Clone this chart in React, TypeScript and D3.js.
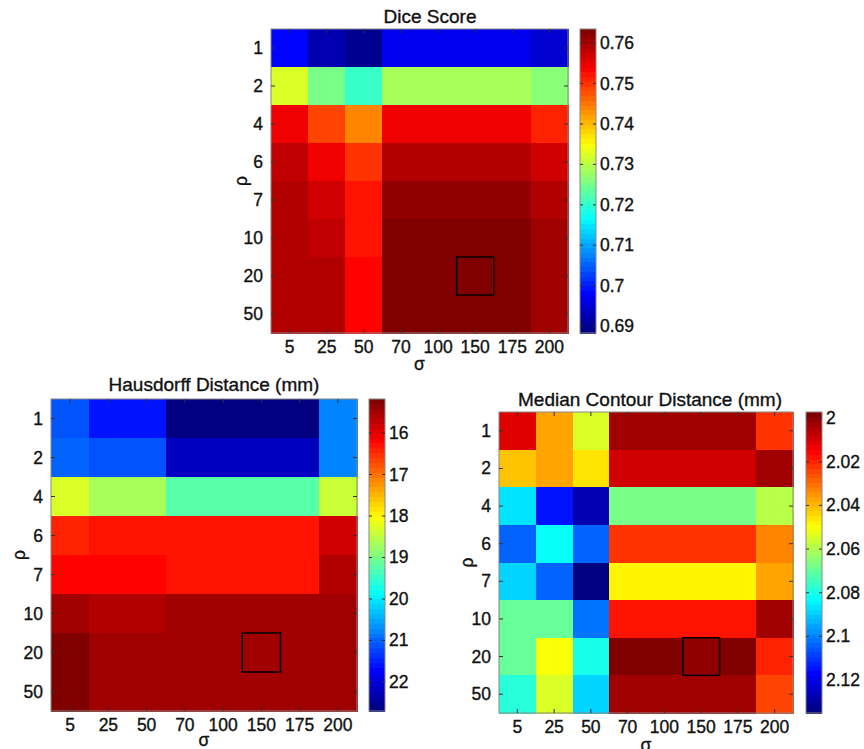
import React from "react";
import * as d3 from "d3";

const rhoLabels = ["1", "2", "4", "6", "7", "10", "20", "50"];
const sigmaLabels = ["5", "25", "50", "70", "100", "150", "175", "200"];

// rows = rho, cols = sigma
const diceValues = [
  [0.6988, 0.6928, 0.6898, 0.6973, 0.6973, 0.6973, 0.6973, 0.695],
  [0.7327, 0.7257, 0.7212, 0.7294, 0.7294, 0.7294, 0.7294, 0.7264],
  [0.7545, 0.749, 0.7445, 0.7552, 0.7552, 0.7552, 0.7552, 0.751],
  [0.7583, 0.7541, 0.7497, 0.7597, 0.7597, 0.7597, 0.7597, 0.7571],
  [0.7594, 0.7567, 0.7518, 0.762, 0.762, 0.762, 0.762, 0.759],
  [0.759, 0.7579, 0.7526, 0.7633, 0.7633, 0.7633, 0.7633, 0.7604],
  [0.759, 0.759, 0.7534, 0.7633, 0.7633, 0.7633, 0.7633, 0.76],
  [0.759, 0.759, 0.7534, 0.7633, 0.7633, 0.7633, 0.7633, 0.76],
];

const hausdorffValues = [
  [21.1, 21.53, 21.53, 22.62, 22.62, 22.62, 22.62, 20.8],
  [20.95, 21.17, 21.17, 22.17, 22.17, 22.17, 22.17, 20.73],
  [18.26, 18.66, 18.66, 19.18, 19.18, 19.18, 19.18, 18.45],
  [16.46, 16.31, 16.31, 16.35, 16.35, 16.35, 16.35, 15.78],
  [16.16, 16.16, 16.16, 16.27, 16.27, 16.27, 16.27, 15.63],
  [15.46, 15.59, 15.59, 15.5, 15.5, 15.5, 15.5, 15.5],
  [15.27, 15.5, 15.5, 15.5, 15.5, 15.5, 15.5, 15.5],
  [15.2, 15.5, 15.5, 15.5, 15.5, 15.5, 15.5, 15.5],
];

const mcdValues = [
  [2.011, 2.0374, 2.0536, 2.0028, 2.0028, 2.0028, 2.0028, 2.0224],
  [2.0412, 2.0374, 2.0467, 2.0087, 2.0087, 2.0087, 2.0087, 2.0033],
  [2.0867, 2.1136, 2.128, 2.067, 2.067, 2.067, 2.067, 2.0576],
  [2.1042, 2.0832, 2.1028, 2.021, 2.021, 2.021, 2.021, 2.0332],
  [2.088, 2.1042, 2.133, 2.0488, 2.0488, 2.0488, 2.0488, 2.036],
  [2.0697, 2.0697, 2.1015, 2.0184, 2.0184, 2.0184, 2.0184, 2.0028],
  [2.0684, 2.0494, 2.0805, 1.9984, 1.9984, 2.0003, 1.9984, 2.019],
  [2.0777, 2.055, 2.0888, 2.0028, 2.0028, 2.0028, 2.0028, 2.025],
];

const diceTicks = [0.69, 0.7, 0.71, 0.72, 0.73, 0.74, 0.75, 0.76];
const hausdorffTicks = [16, 17, 18, 19, 20, 21, 22];
const mcdTicks = [2, 2.02, 2.04, 2.06, 2.08, 2.1, 2.12];

const bestRho = "20";
const bestSigma = "150";

const FONT = "'Liberation Sans', Arial, Helvetica, sans-serif";

// MATLAB-like jet, 64 levels
const jet = (t) => {
  const i = Math.max(0, Math.min(63, Math.floor(t * 64)));
  const q = i / 63;
  const c = (v) => Math.round(255 * Math.max(0, Math.min(1, v)));
  const r = c(1.5 - Math.abs(4 * q - 3));
  const g = c(1.5 - Math.abs(4 * q - 2));
  const b = c(1.5 - Math.abs(4 * q - 1));
  return `rgb(${r},${g},${b})`;
};

const Heatmap = ({ title, values, x, y, w, h, cbx, cbw, dom, ticks, titleX, titleY, rhoX, sigmaDy }) => {
  const xs = d3.scaleBand().domain(sigmaLabels).range([x, x + w]);
  const ys = d3.scaleBand().domain(rhoLabels).range([y, y + h]);
  // dom = [value at colorbar bottom, value at colorbar top]
  const cs = d3.scaleLinear().domain(dom).range([y + h, y]);
  const colorOf = (v) => jet((y + h - cs(v)) / h);
  const levels = d3.range(64);
  const lh = h / 64;
  const tl = 4;

  return (
    <g fontFamily={FONT} fontSize={17.5} fill="#111" stroke="#111" strokeWidth={0.35}>
      <text x={titleX} y={titleY} textAnchor="middle" fontSize={19}>{title}</text>
      <g stroke="none" shapeRendering="crispEdges">
        {values.map((row, ri) =>
          row.map((v, ci) => (
            <rect
              key={`${ri}-${ci}`}
              x={xs(sigmaLabels[ci])}
              y={ys(rhoLabels[ri])}
              width={xs.bandwidth() + 0.5}
              height={ys.bandwidth() + 0.5}
              fill={colorOf(v)}
            />
          ))
        )}
        {levels.map((i) => (
          <rect
            key={i}
            x={cbx}
            y={y + h - (i + 1) * lh}
            width={cbw}
            height={lh + 0.5}
            fill={jet((i + 0.5) / 64)}
          />
        ))}
      </g>
      <rect
        x={xs(bestSigma)}
        y={ys(bestRho)}
        width={xs.bandwidth()}
        height={ys.bandwidth()}
        fill="none"
        stroke="#000"
        strokeWidth={1.5}
      />
      <rect x={x} y={y} width={w} height={h} fill="none" stroke="#888" strokeWidth={1} />
      <rect x={cbx} y={y} width={cbw} height={h} fill="none" stroke="#888" strokeWidth={1} />
      {rhoLabels.map((r) => {
        const cy = ys(r) + ys.bandwidth() / 2;
        return (
          <g key={r}>
            <line x1={x} x2={x + tl} y1={cy} y2={cy} stroke="#333" strokeWidth={1} />
            <line x1={x + w - tl} x2={x + w} y1={cy} y2={cy} stroke="#333" strokeWidth={1} />
            <text x={x - 8} y={cy + 6} textAnchor="end">{r}</text>
          </g>
        );
      })}
      {sigmaLabels.map((s) => {
        const cx = xs(s) + xs.bandwidth() / 2;
        return (
          <g key={s}>
            <line x1={cx} x2={cx} y1={y + h - tl} y2={y + h} stroke="#333" strokeWidth={1} />
            <line x1={cx} x2={cx} y1={y} y2={y + tl} stroke="#333" strokeWidth={1} />
            <text x={cx} y={y + h + 20} textAnchor="middle">{s}</text>
          </g>
        );
      })}
      <text x={x + w / 2} y={y + h + sigmaDy} textAnchor="middle">σ</text>
      <text
        transform={`translate(${rhoX},${y + h / 2}) rotate(-90)`}
        textAnchor="middle"
      >ρ</text>
      {ticks.map((t) => (
        <g key={t}>
          <line x1={cbx} x2={cbx + 3} y1={cs(t)} y2={cs(t)} stroke="#333" strokeWidth={1} />
          <line x1={cbx + cbw - 3} x2={cbx + cbw} y1={cs(t)} y2={cs(t)} stroke="#333" strokeWidth={1} />
          <text x={cbx + cbw + 4} y={cs(t) + 6}>{String(+t.toFixed(2))}</text>
        </g>
      ))}
    </g>
  );
};

export default function App() {
  return (
    <svg width={864} height={749} style={{ position: "absolute", left: 0, top: 0, background: "#fff" }}>
      <Heatmap
        title="Dice Score"
        values={diceValues}
        x={271} y={29} w={297} h={304}
        cbx={580} cbw={16}
        dom={[0.6883, 0.7635]}
        ticks={diceTicks}
        titleX={430}
        titleY={23}
        rhoX={247}
        sigmaDy={37}
      />
      <Heatmap
        title="Hausdorff Distance (mm)"
        values={hausdorffValues}
        x={51} y={399} w={306} h={312}
        cbx={369} cbw={16}
        dom={[22.7, 15.18]}
        ticks={hausdorffTicks}
        titleX={214}
        titleY={391}
        rhoX={25}
        sigmaDy={35}
      />
      <Heatmap
        title="Median Contour Distance (mm)"
        values={mcdValues}
        x={499} y={412} w={294} h={301}
        cbx={806} cbw={16}
        dom={[2.1351, 1.9972]}
        ticks={mcdTicks}
        titleX={650}
        titleY={406}
        rhoX={473}
        sigmaDy={38}
      />
    </svg>
  );
}
